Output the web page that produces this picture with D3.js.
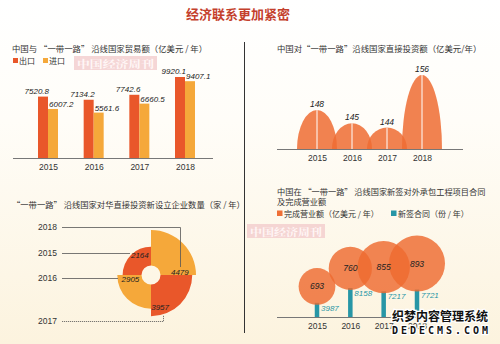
<!DOCTYPE html>
<html><head><meta charset="utf-8">
<script src="https://cdn.jsdelivr.net/npm/d3@7"></script>
<style>body{margin:0;background:#fff} svg{display:block}</style>
</head><body>
<svg id="c" width="500" height="344"></svg>
<script>
// ---------- data ----------
const years = ["2015", "2016", "2017", "2018"];
const exportVals = [7520.8, 7134.2, 7742.6, 9920.1];
const importVals = [6007.2, 5561.6, 6660.5, 9407.1];
const investVals = [148, 145, 144, 156];
const newFirmVals = [2164, 2905, 3957, 4479];
const revenueVals = [693, 760, 855, 893];
const contractVals = [3987, 8158, 7217, 7721];
const exportLabels = ["7520.8", "7134.2", "7742.6", "9920.1"];
const importLabels = ["6007.2", "5561.6", "6660.5", "9407.1"];

// ---------- styles ----------
const CJK = "'Noto Sans CJK SC', 'Noto Sans', sans-serif";
const NUM = "'Liberation Sans Narrow', 'Liberation Sans', Arial, sans-serif";
const C_RED = "#e9572a", C_YEL = "#f5a83a", C_ARCH = "#ee6c33", C_TEAL = "#2796a6";

const svg = d3.select("#c");
const defs = svg.append("defs");
const bg = defs.append("linearGradient").attr("id", "bg").attr("x1", 0).attr("y1", 0).attr("x2", 0).attr("y2", 1);
bg.append("stop").attr("offset", "0%").attr("stop-color", "#ffffff");
bg.append("stop").attr("offset", "35%").attr("stop-color", "#fffdf8");
bg.append("stop").attr("offset", "100%").attr("stop-color", "#fcf3de");
svg.append("rect").attr("width", 500).attr("height", 344).attr("fill", "url(#bg)");

// main title
svg.append("text").attr("x", 238).attr("y", 19).attr("text-anchor", "middle")
  .attr("font-family", CJK).attr("font-size", 13).attr("font-weight", 700)
  .attr("fill", "#c4402c").text("经济联系更加紧密");

// divider
svg.append("line").attr("x1", 244.5).attr("x2", 244.5).attr("y1", 42).attr("y2", 333)
  .attr("stroke", "#333").attr("stroke-width", 1);

function ptitle(x, y, t, size) {
  svg.append("text").attr("x", x).attr("y", y).attr("font-family", CJK)
    .attr("font-size", size || 8.4).attr("fill", "#333").text(t);
}
function watermark(x, y, w, h) {
  svg.append("rect").attr("x", x).attr("y", y).attr("width", w).attr("height", h).attr("fill", "#f3cfcf").attr("opacity", 0.85);
  svg.append("text").attr("x", x + w / 2).attr("y", y + h - 2.5).attr("text-anchor", "middle")
    .attr("font-family", "'Noto Serif CJK SC', " + CJK).attr("font-size", h - 3.5).attr("font-weight", 700)
    .attr("fill", "#fff6f6").attr("textLength", w - 6).attr("lengthAdjust", "spacingAndGlyphs").text("中国经济周刊");
}

// ================= Panel 1: trade bars =================
ptitle(12, 52, "中国与 “一带一路” 沿线国家贸易额（亿美元 / 年）");
svg.append("rect").attr("x", 13).attr("y", 58).attr("width", 5).attr("height", 5).attr("fill", C_RED);
svg.append("text").attr("x", 19).attr("y", 64).attr("font-family", CJK).attr("font-size", 8).attr("fill", "#333").text("出口");
svg.append("rect").attr("x", 43).attr("y", 58).attr("width", 5).attr("height", 5).attr("fill", C_YEL);
svg.append("text").attr("x", 49).attr("y", 64).attr("font-family", CJK).attr("font-size", 8).attr("fill", "#333").text("进口");
watermark(74, 56, 83, 14);

const x1 = d3.scalePoint().domain(years).range([48, 185]);
const y1 = d3.scaleLinear().domain([0, 9920.1]).range([158, 77]);
const bw = 10;
const g1 = svg.append("g");
g1.selectAll(".ex").data(years).join("rect")
  .attr("x", d => x1(d) - bw).attr("width", bw)
  .attr("y", (d, i) => y1(exportVals[i])).attr("height", (d, i) => y1(0) - y1(exportVals[i]))
  .attr("fill", C_RED);
g1.selectAll(".im").data(years).join("rect")
  .attr("x", d => x1(d)).attr("width", bw)
  .attr("y", (d, i) => y1(importVals[i])).attr("height", (d, i) => y1(0) - y1(importVals[i]))
  .attr("fill", C_YEL);
g1.selectAll(".exl").data(years).join("text")
  .attr("x", d => x1(d) + 1).attr("y", (d, i) => y1(exportVals[i]) - 3)
  .attr("text-anchor", "end").attr("font-family", NUM).attr("font-style", "italic")
  .attr("font-size", 8).attr("fill", "#222").text((d, i) => exportLabels[i]);
g1.selectAll(".iml").data(years).join("text")
  .attr("x", d => x1(d) + 1).attr("y", (d, i) => y1(importVals[i]) - 2)
  .attr("text-anchor", "start").attr("font-family", NUM).attr("font-style", "italic")
  .attr("font-size", 8).attr("fill", "#222").text((d, i) => importLabels[i]);
const ax1 = svg.append("g").attr("transform", "translate(0,158)")
  .call(d3.axisBottom(x1).tickSize(0).tickPadding(6));
ax1.select(".domain").attr("d", "M13,0.5H213").attr("stroke", "#777");
ax1.selectAll("text").attr("font-family", "'Liberation Sans', Arial, sans-serif").attr("font-size", 8.5).attr("fill", "#333");

// ================= Panel 2: invest arches =================
ptitle(277, 52, "中国对“一带一路”沿线国家直接投资额（亿美元/年）");
const x2 = d3.scalePoint().domain(years).range([317, 422]);
const base2 = 149;
const h2 = d3.scaleLinear().domain([139.1, 156]).range([0, 74]);
const rx2 = 20;
const g2 = svg.append("g");
g2.selectAll("path").data(years).join("path")
  .attr("d", (d, i) => {
    const cx = x2(d), h = h2(investVals[i]);
    return `M${cx - rx2},${base2} A${rx2},${h} 0 0 1 ${cx + rx2},${base2} Z`;
  })
  .attr("fill", C_ARCH).attr("fill-opacity", 0.85);
g2.selectAll("line").data(years).join("line")
  .attr("x1", d => x2(d)).attr("x2", d => x2(d))
  .attr("y1", base2).attr("y2", (d, i) => base2 - h2(investVals[i]))
  .attr("stroke", "#fff").attr("stroke-width", 1);
g2.selectAll("text").data(years).join("text")
  .attr("x", d => x2(d)).attr("y", (d, i) => base2 - h2(investVals[i]) - 3)
  .attr("text-anchor", "middle").attr("font-family", NUM).attr("font-style", "italic")
  .attr("font-size", 8.5).attr("fill", "#222").text((d, i) => investVals[i]);
const ax2 = svg.append("g").attr("transform", `translate(0,${base2})`)
  .call(d3.axisBottom(x2).tickSize(0).tickPadding(6));
ax2.select(".domain").attr("d", "M277,0.5H463").attr("stroke", "#777");
ax2.selectAll("text").attr("font-family", "'Liberation Sans', Arial, sans-serif").attr("font-size", 8.5).attr("fill", "#333");

// ================= Panel 3: polar quadrants =================
ptitle(12, 208, "“一带一路” 沿线国家对华直接投资新设立企业数量（家 / 年）", 8.3);
const pcx = 151, pcy = 275;
const rP = d3.scaleLinear().domain([1000, 4479]).range([20, 45]);
// quadrant order clockwise from 12 o'clock: 2018, 2017, 2016, 2015
const quadOf = { "2018": 0, "2017": 1, "2016": 2, "2015": 3 };
const quadCol = [C_YEL, C_RED, C_YEL, C_RED];
const arc = d3.arc().innerRadius(9.5);
const g3 = svg.append("g").attr("transform", `translate(${pcx},${pcy})`);
g3.selectAll("path").data(years).join("path")
  .attr("d", (d, i) => {
    const q = quadOf[d];
    return arc({ startAngle: q * Math.PI / 2, endAngle: (q + 1) * Math.PI / 2, outerRadius: rP(newFirmVals[i]) });
  })
  .attr("fill", d => quadCol[quadOf[d]]);
// label positions in polar form (angle deg clockwise from top, radius)
const plPos = { "2015": [331, 23], "2016": [259, 21], "2017": [164, 33], "2018": [84, 29] };
g3.selectAll("text").data(years).join("text")
  .attr("x", d => Math.sin(plPos[d][0] * Math.PI / 180) * plPos[d][1])
  .attr("y", d => -Math.cos(plPos[d][0] * Math.PI / 180) * plPos[d][1] + 3)
  .attr("text-anchor", "middle").attr("font-family", NUM).attr("font-style", "italic")
  .attr("font-size", 8).attr("fill", "#222").text((d, i) => newFirmVals[i]);
// leader labels
const leadY = { "2018": 227, "2015": 253, "2016": 278, "2017": 321 };
const leadPath = {
  "2018": "M62,227.5H180.5V267",
  "2015": "M62,253.5H130",
  "2016": "M62,278.5H118",
  "2017": "M62,321.5H163.5V315"
};
years.forEach(y => {
  svg.append("text").attr("x", 38).attr("y", leadY[y] + 3).attr("font-family", "'Liberation Sans', Arial, sans-serif")
    .attr("font-size", 8.5).attr("fill", "#333").text(y);
  svg.append("path").attr("d", leadPath[y]).attr("fill", "none").attr("stroke", "#555")
    .attr("stroke-width", 0.8).attr("stroke-dasharray", y === "2017" ? "1.2,0.8" : null);
});
watermark(247, 224, 78, 14);

// ================= Panel 4: bubbles + bars =================
ptitle(277, 194.5, "中国在 “一带一路” 沿线国家新签对外承包工程项目合同", 8.2);
ptitle(277, 205, "及完成营业额", 8.2);
svg.append("rect").attr("x", 277).attr("y", 210.5).attr("width", 5.5).attr("height", 5.5).attr("fill", "#ef6f36");
svg.append("text").attr("x", 284).attr("y", 217).attr("font-family", CJK).attr("font-size", 8).attr("fill", "#333").text("完成营业额（亿美元 / 年）");
svg.append("rect").attr("x", 391).attr("y", 210.5).attr("width", 5.5).attr("height", 5.5).attr("fill", C_TEAL);
svg.append("text").attr("x", 398).attr("y", 217).attr("font-family", CJK).attr("font-size", 8).attr("fill", "#333").text("新签合同（份 / 年）");

const x4 = d3.scalePoint().domain(years).range([317, 417]);
const base4 = 317;
const yB = d3.scaleLinear().domain([0, 8158]).range([0, 29]);
const rC = d3.scaleLinear().domain([560, 893]).range([12, 28]);
const g4 = svg.append("g");
g4.selectAll("rect").data(years).join("rect")
  .attr("x", d => x4(d) - 2.25).attr("width", 4.5)
  .attr("y", (d, i) => base4 - yB(contractVals[i])).attr("height", (d, i) => yB(contractVals[i]))
  .attr("fill", C_TEAL);
g4.selectAll("circle").data(years).join("circle")
  .attr("cx", d => x4(d))
  .attr("cy", (d, i) => base4 - yB(contractVals[i]) - rC(revenueVals[i]) + 2)
  .attr("r", (d, i) => rC(revenueVals[i]))
  .attr("fill", "#ee6a30").attr("fill-opacity", 0.82);
g4.selectAll(".cl").data(years).join("text")
  .attr("x", d => x4(d))
  .attr("y", (d, i) => base4 - yB(contractVals[i]) - rC(revenueVals[i]) + 5)
  .attr("text-anchor", "middle").attr("font-family", NUM).attr("font-style", "italic")
  .attr("font-size", 8.5).attr("fill", "#222").text((d, i) => revenueVals[i]);
g4.selectAll(".bl").data(years).join("text")
  .attr("x", d => x4(d) + 4).attr("y", (d, i) => base4 - yB(contractVals[i]) + 8)
  .attr("font-family", NUM).attr("font-style", "italic")
  .attr("font-size", 8).attr("fill", C_TEAL).text((d, i) => contractVals[i]);
const ax4 = svg.append("g").attr("transform", `translate(0,${base4})`)
  .call(d3.axisBottom(x4).tickSize(0).tickPadding(6));
ax4.select(".domain").attr("d", "M277,0.5H470").attr("stroke", "#777");
ax4.selectAll("text").attr("font-family", "'Liberation Sans', Arial, sans-serif").attr("font-size", 8.5).attr("fill", "#333");

// site watermark (overlays the chart as in the reference)
svg.append("text").attr("x", 392).attr("y", 321).attr("font-family", CJK).attr("font-size", 12.5).attr("font-weight", 700)
  .attr("fill", "#111").attr("stroke", "#fff").attr("stroke-width", 2.5).attr("paint-order", "stroke")
  .attr("textLength", 96).attr("lengthAdjust", "spacingAndGlyphs").text("织梦内容管理系统");
svg.append("text").attr("x", 392).attr("y", 334).attr("font-family", "'DejaVu Sans Mono', monospace").attr("font-size", 10).attr("font-weight", 700)
  .attr("fill", "#111").attr("stroke", "#fff").attr("stroke-width", 2.5).attr("paint-order", "stroke")
  .attr("textLength", 96).attr("lengthAdjust", "spacing").text("DEDECMS.COM");
</script>
</body></html>
